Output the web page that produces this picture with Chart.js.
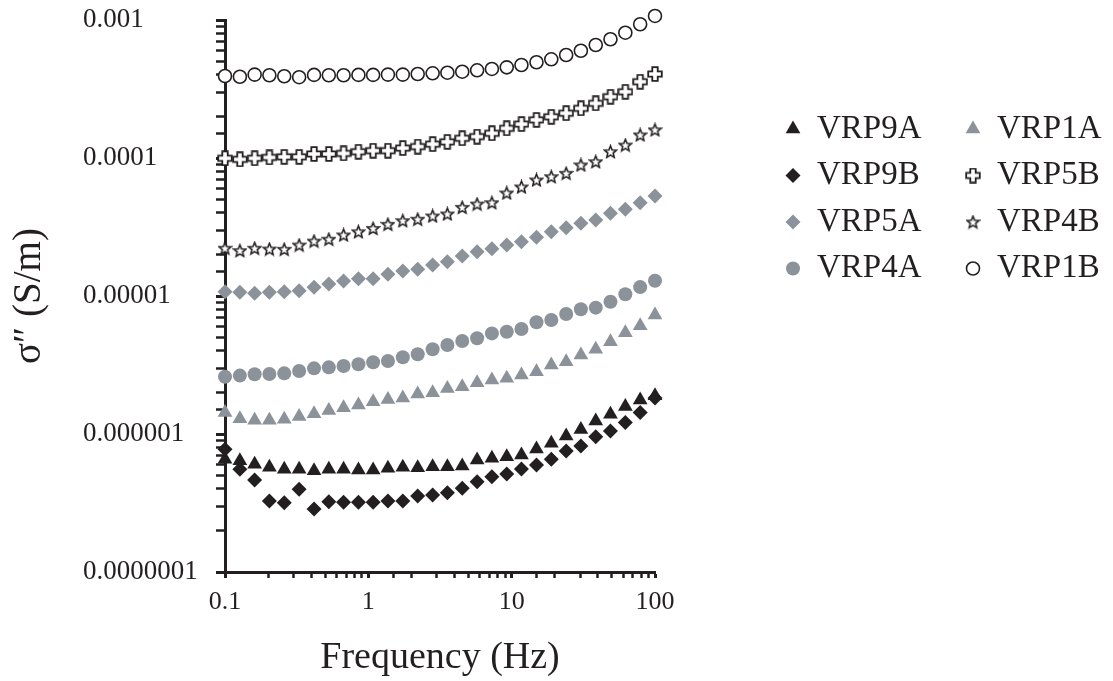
<!DOCTYPE html>
<html>
<head>
<meta charset="utf-8">
<script src="https://cdn.jsdelivr.net/npm/chart.js@4/dist/chart.umd.min.js"></script>
<style>
  body { margin: 0; background: #fff; }
  #wrap { width: 1113px; height: 681px; }
</style>
</head>
<body>
<div id="wrap"><canvas id="chart" width="1113" height="681"></canvas></div>
<script>
// frequency (Hz)
const freq = [0.1, 0.127, 0.161, 0.204, 0.259, 0.329, 0.418, 0.53, 0.672, 0.853,
    1.08, 1.37, 1.74, 2.21, 2.81, 3.56, 4.52, 5.74, 7.28, 9.24,
    11.7, 14.9, 18.9, 24.0, 30.4, 38.6, 48.9, 62.1, 78.8, 100];

// sigma'' (S/m) per sample
const vrp9a = [6.56e-7, 6.41e-7, 6.03e-7, 5.74e-7, 5.55e-7, 5.55e-7, 5.42e-7, 5.55e-7, 5.55e-7, 5.48e-7,
    5.48e-7, 5.64e-7, 5.74e-7, 5.7e-7, 5.8e-7, 5.8e-7, 5.86e-7, 6.48e-7, 6.67e-7, 6.85e-7,
    7.04e-7, 7.79e-7, 8.56e-7, 9.67e-7, 1.08e-6, 1.24e-6, 1.39e-6, 1.58e-6, 1.76e-6, 1.89e-6];
const vrp9b = [7.75e-7, 5.55e-7, 4.64e-7, 3.27e-7, 3.18e-7, 3.98e-7, 2.86e-7, 3.23e-7, 3.2e-7, 3.2e-7,
    3.2e-7, 3.27e-7, 3.27e-7, 3.55e-7, 3.61e-7, 3.75e-7, 4.04e-7, 4.51e-7, 4.91e-7, 5.13e-7,
    5.58e-7, 5.96e-7, 6.56e-7, 7.53e-7, 8.19e-7, 9.56e-7, 1.05e-6, 1.21e-6, 1.43e-6, 1.82e-6];
const vrp5a = [1.074e-5, 1.064e-5, 1.046e-5, 1.064e-5, 1.074e-5, 1.092e-5, 1.156e-5, 1.222e-5, 1.285e-5, 1.335e-5,
    1.335e-5, 1.436e-5, 1.518e-5, 1.561e-5, 1.677e-5, 1.772e-5, 1.949e-5, 2.094e-5, 2.2e-5, 2.342e-5,
    2.474e-5, 2.664e-5, 2.924e-5, 3.125e-5, 3.362e-5, 3.552e-5, 3.973e-5, 4.248e-5, 4.742e-5, 5.303e-5];
const vrp4a = [2.6e-6, 2.65e-6, 2.71e-6, 2.72e-6, 2.75e-6, 2.86e-6, 2.99e-6, 3.04e-6, 3.11e-6, 3.2e-6,
    3.31e-6, 3.38e-6, 3.6e-6, 3.78e-6, 4.11e-6, 4.41e-6, 4.72e-6, 4.94e-6, 5.36e-6, 5.51e-6,
    5.76e-6, 6.45e-6, 6.7e-6, 7.41e-6, 8.01e-6, 8.23e-6, 9.09e-6, 1.03e-5, 1.16e-5, 1.29e-5];
const vrp1a = [1.43e-6, 1.29e-6, 1.26e-6, 1.26e-6, 1.28e-6, 1.34e-6, 1.4e-6, 1.48e-6, 1.55e-6, 1.62e-6,
    1.71e-6, 1.78e-6, 1.82e-6, 1.95e-6, 1.99e-6, 2.14e-6, 2.2e-6, 2.35e-6, 2.46e-6, 2.53e-6,
    2.68e-6, 2.83e-6, 3.16e-6, 3.34e-6, 3.74e-6, 4.11e-6, 4.67e-6, 5.42e-6, 6.09e-6, 7.28e-6];
const vrp5b = [9.95e-5, 9.78e-5, 9.95e-5, 1.01e-4, 1.02e-4, 1.02e-4, 1.07e-4, 1.07e-4, 1.08e-4, 1.11e-4,
    1.13e-4, 1.13e-4, 1.18e-4, 1.21e-4, 1.26e-4, 1.31e-4, 1.39e-4, 1.43e-4, 1.51e-4, 1.64e-4,
    1.76e-4, 1.89e-4, 1.99e-4, 2.11e-4, 2.29e-4, 2.49e-4, 2.78e-4, 3.02e-4, 3.57e-4, 4.06e-4];
const vrp4b = [2.22e-5, 2.13e-5, 2.22e-5, 2.19e-5, 2.18e-5, 2.34e-5, 2.5e-5, 2.58e-5, 2.77e-5, 2.92e-5,
    3.09e-5, 3.31e-5, 3.51e-5, 3.6e-5, 3.8e-5, 3.93e-5, 4.39e-5, 4.64e-5, 4.74e-5, 5.58e-5,
    6.17e-5, 6.93e-5, 7.32e-5, 7.75e-5, 8.9e-5, 9.4e-5, 1.11e-4, 1.24e-4, 1.47e-4, 1.6e-4];
const vrp1b = [3.93e-4, 3.88e-4, 4.02e-4, 3.98e-4, 3.91e-4, 3.85e-4, 4.0e-4, 3.98e-4, 3.98e-4, 4.0e-4,
    4.0e-4, 4.02e-4, 4.02e-4, 4.06e-4, 4.11e-4, 4.15e-4, 4.22e-4, 4.32e-4, 4.42e-4, 4.54e-4,
    4.72e-4, 4.94e-4, 5.19e-4, 5.58e-4, 5.99e-4, 6.59e-4, 7.25e-4, 8.09e-4, 9.31e-4, 1.07e-3];

// tick labels (decades only)
const xTickLabels = ['0.1', '1', '10', '100'];
const yTickLabels = ['0.0000001', '0.000001', '0.00001', '0.0001', '0.001'];
const legendOrder = ['VRP9A', 'VRP9B', 'VRP5A', 'VRP4A', 'VRP1A', 'VRP5B', 'VRP4B', 'VRP1B'];

const BLACK = '#231f20';
const GREY = '#8b9299';
const FONT = "'Liberation Serif', 'Times New Roman', serif";

// hollow marker images (chart.js has no outlined plus / five point star)
function hollowPlus(size) {
    const c = document.createElement('canvas');
    c.width = c.height = size;
    const g = c.getContext('2d');
    const m = size / 2, t = size * 0.17, e = size / 2 - 1.2;
    g.beginPath();
    g.moveTo(m - t, m - e); g.lineTo(m + t, m - e); g.lineTo(m + t, m - t);
    g.lineTo(m + e, m - t); g.lineTo(m + e, m + t); g.lineTo(m + t, m + t);
    g.lineTo(m + t, m + e); g.lineTo(m - t, m + e); g.lineTo(m - t, m + t);
    g.lineTo(m - e, m + t); g.lineTo(m - e, m - t); g.lineTo(m - t, m - t);
    g.closePath();
    g.fillStyle = '#fff'; g.fill();
    g.lineWidth = 1.8; g.strokeStyle = BLACK; g.stroke();
    return c;
}
function hollowStar(size) {
    const c = document.createElement('canvas');
    c.width = c.height = size;
    const g = c.getContext('2d');
    const m = size / 2, ro = size / 2 - 1.2, ri = ro * 0.45;
    g.beginPath();
    for (let k = 0; k < 10; k++) {
        const r = k % 2 === 0 ? ro : ri;
        const a = -Math.PI / 2 + k * Math.PI / 5;
        const px = m + r * Math.cos(a), py = m + 0.5 + r * Math.sin(a);
        if (k === 0) g.moveTo(px, py); else g.lineTo(px, py);
    }
    g.closePath();
    g.fillStyle = '#fff'; g.fill();
    g.lineWidth = 1.6; g.strokeStyle = BLACK; g.stroke();
    return c;
}
const plusImg = hollowPlus(16);
const starImg = hollowStar(15);

const toPoints = (ys) => ys.map((y, i) => ({ x: freq[i], y: y }));

function series(label, ys, style, fill, border, radius, bw) {
    return {
        label: label,
        data: toPoints(ys),
        showLine: false,
        pointStyle: style,
        pointRadius: radius,
        pointHoverRadius: radius,
        pointBackgroundColor: fill,
        pointBorderColor: border,
        pointBorderWidth: bw,
        clip: false
    };
}

const datasets = [
    series('VRP1B', vrp1b, 'circle', '#fff', BLACK, 6.5, 1.6),
    series('VRP5B', vrp5b, plusImg, BLACK, BLACK, 7, 0),
    series('VRP4B', vrp4b, starImg, BLACK, BLACK, 7, 0),
    series('VRP5A', vrp5a, 'rectRot', GREY, GREY, 7.5, 0),
    series('VRP4A', vrp4a, 'circle', GREY, GREY, 7, 0),
    series('VRP1A', vrp1a, 'triangle', GREY, GREY, 8.5, 0),
    series('VRP9A', vrp9a, 'triangle', BLACK, BLACK, 8.5, 0),
    series('VRP9B', vrp9b, 'rectRot', BLACK, BLACK, 7.5, 0)
];

function decadeLabel(value, labels, firstExp) {
    const e = Math.round(Math.log10(value));
    if (Math.abs(value / Math.pow(10, e) - 1) > 1e-6) return '';
    return labels[e - firstExp] || '';
}

// two-column legend drawn at the right of the plot
const sideLegend = {
    id: 'sideLegend',
    afterDraw(chart, args, opts) {
        const ctx = chart.ctx;
        const drawPoint = Chart.helpers && Chart.helpers.drawPoint;
        ctx.save();
        ctx.font = opts.fontSize + 'px ' + FONT;
        ctx.textBaseline = 'middle';
        ctx.textAlign = 'left';
        legendOrder.forEach((name, k) => {
            const ds = chart.data.datasets.find(d => d.label === name);
            if (!ds) return;
            const col = Math.floor(k / 4), row = k % 4;
            const x = opts.x0 + col * opts.colGap;
            const y = opts.y0 + row * opts.rowGap;
            ctx.fillStyle = ds.pointBackgroundColor;
            ctx.strokeStyle = ds.pointBorderColor;
            ctx.lineWidth = ds.pointBorderWidth;
            if (drawPoint) {
                drawPoint(ctx, {
                    pointStyle: ds.pointStyle,
                    radius: ds.pointRadius,
                    borderWidth: ds.pointBorderWidth,
                    rotation: 0
                }, x, y);
            }
            ctx.fillStyle = BLACK;
            ctx.fillText(name, x + opts.textGap, y);
        });
        ctx.restore();
    }
};

new Chart(document.getElementById('chart'), {
    type: 'scatter',
    data: { datasets: datasets },
    plugins: [sideLegend],
    options: {
        responsive: false,
        animation: false,
        layout: { padding: { top: 20, right: 458, left: 83, bottom: 0 } },
        plugins: {
            legend: { display: false },
            tooltip: { enabled: false },
            sideLegend: { x0: 793, y0: 129, colGap: 180, rowGap: 46.5, textGap: 24, fontSize: 33 }
        },
        scales: {
            x: {
                type: 'logarithmic',
                min: 0.1,
                max: 100,
                afterFit: (scale) => { scale.height = 109; },
                border: { display: true, color: BLACK, width: 3 },
                grid: {
                    display: true,
                    drawOnChartArea: false,
                    drawTicks: true,
                    tickLength: 6,
                    tickColor: BLACK,
                    tickWidth: (c) => (c.tick && c.tick.major ? 3 : 2.5)
                },
                ticks: {
                    autoSkip: false,
                    maxRotation: 0,
                    padding: 9,
                    color: BLACK,
                    font: { family: FONT, size: 26 },
                    major: { enabled: true },
                    callback: (v) => decadeLabel(v, xTickLabels, -1)
                },
                title: {
                    display: true,
                    text: 'Frequency (Hz)',
                    color: BLACK,
                    font: { family: FONT, size: 38 },
                    padding: { top: 0, bottom: 0 }
                }
            },
            y: {
                type: 'logarithmic',
                min: 1e-7,
                max: 1e-3,
                afterFit: (scale) => {
                    scale.width = 142;
                    scale.paddingTop = 0;
                    scale.paddingBottom = 0;
                },
                border: { display: true, color: BLACK, width: 3 },
                grid: {
                    display: true,
                    drawOnChartArea: false,
                    drawTicks: true,
                    tickLength: 9,
                    tickColor: BLACK,
                    tickWidth: (c) => (c.tick && c.tick.major ? 3 : 2.5)
                },
                ticks: {
                    autoSkip: false,
                    crossAlign: 'far',
                    padding: 18,
                    color: BLACK,
                    font: { family: FONT, size: 27 },
                    major: { enabled: true },
                    callback: (v) => decadeLabel(v, yTickLabels, -7)
                },
                title: {
                    display: true,
                    text: 'σ″ (S/m)',
                    color: BLACK,
                    font: { family: FONT, size: 39 },
                    // title sits left of the tick labels, outside the axis box
                    padding: { top: -77, bottom: 0 }
                }
            }
        }
    }
});
</script>
</body>
</html>
